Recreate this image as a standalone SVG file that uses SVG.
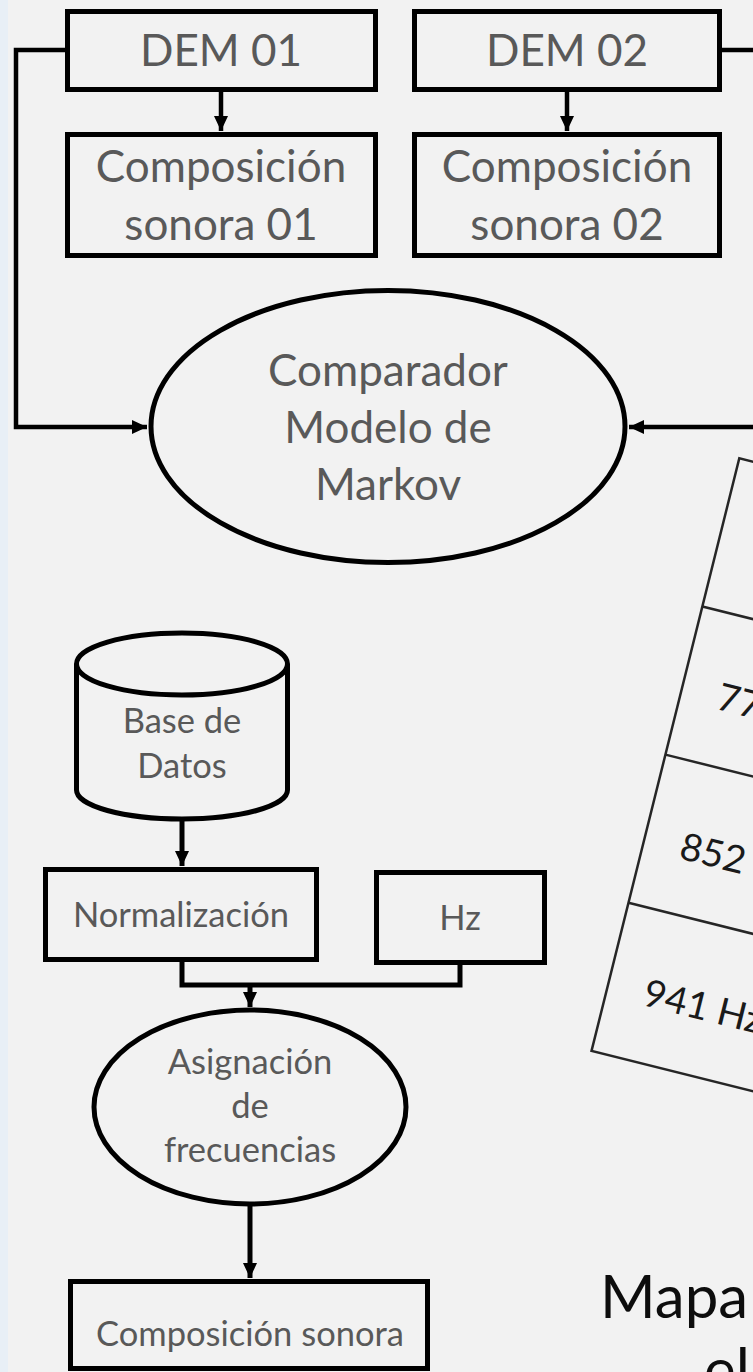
<svg xmlns="http://www.w3.org/2000/svg" width="753" height="1372" viewBox="0 0 753 1372">
<style>
.box{fill:none;stroke:#000;stroke-width:5}
.con{fill:none;stroke:#000;stroke-width:4.5}
.con2{fill:none;stroke:#000;stroke-width:5}
.t{font-family:Lato,"Liberation Sans",sans-serif;fill:#595959;text-anchor:middle}
.big{font-size:44px}
.sm{font-size:34.5px}
.tab{fill:none;stroke:#262626;stroke-width:2.5}
.tt{font-family:Lato,"Liberation Sans",sans-serif;fill:#1a1a1a;font-size:38px}
</style>
<defs>
<marker id="ah" markerUnits="userSpaceOnUse" markerWidth="16" markerHeight="14" refX="15" refY="7" orient="auto">
<path d="M0,0 L15,7 L0,14 z" fill="#000"/>
</marker>
</defs>
<rect x="0" y="0" width="753" height="1372" fill="#f2f2f2"/>
<rect x="0" y="0" width="8" height="1372" fill="#e8eff6"/>

<g id="connectors">
<path class="con" d="M65,50 H16 V427 H147" marker-end="url(#ah)"/>
<path class="con" d="M722,50 H753"/>
<path class="con" d="M753,427 H629" marker-end="url(#ah)"/>
<path class="con" d="M221,92 V131" marker-end="url(#ah)"/>
<path class="con" d="M567,92 V131" marker-end="url(#ah)"/>
<path class="con2" d="M182,820 V866" marker-end="url(#ah)"/>
<path class="con2" d="M182,962 V985 H460 V965"/>
<path class="con2" d="M250,985 V1007" marker-end="url(#ah)"/>
<path class="con2" d="M250,1205 V1278" marker-end="url(#ah)"/>
</g>

<g id="dem01">
<rect class="box" x="67.5" y="11.5" width="308" height="78"/>
<text class="t big" x="221" y="66">DEM 01</text>
</g>
<g id="dem02">
<rect class="box" x="414.5" y="11.5" width="305" height="78"/>
<text class="t big" x="567" y="66">DEM 02</text>
</g>
<g id="comp01">
<rect class="box" x="67.5" y="134.5" width="308" height="121"/>
<text class="t big" x="221" y="182">Composición</text>
<text class="t big" x="221" y="240">sonora 01</text>
</g>
<g id="comp02">
<rect class="box" x="414.5" y="134.5" width="305" height="121"/>
<text class="t big" x="567" y="182">Composición</text>
<text class="t big" x="567" y="240">sonora 02</text>
</g>
<g id="comparador">
<ellipse class="box" cx="388" cy="426.5" rx="237" ry="136"/>
<text class="t big" x="388" y="386">Comparador</text>
<text class="t big" x="388" y="443">Modelo de</text>
<text class="t big" x="388" y="500">Markov</text>
</g>

<g id="tabla" transform="translate(739.3,458.3) rotate(14)">
<rect class="tab" x="0" y="0" width="400" height="610.8"/>
<line class="tab" x1="0" y1="152.7" x2="400" y2="152.7"/>
<line class="tab" x1="0" y1="305.4" x2="400" y2="305.4"/>
<line class="tab" x1="0" y1="458.1" x2="400" y2="458.1"/>
<text class="tt" x="37" y="249">77</text>
<text class="tt" x="37" y="403">852</text>
<text class="tt" x="37" y="554">941 Hz</text>
</g>

<g id="basedatos">
<path class="box" d="M76.5,664 V790 A105.5,29 0 0 0 287.5,790 V664"/>
<ellipse class="box" cx="182" cy="664" rx="105.5" ry="31"/>
<text class="t sm" x="182" y="733">Base de</text>
<text class="t sm" x="182" y="778">Datos</text>
</g>
<g id="normalizacion">
<rect class="box" x="45.5" y="869.5" width="271" height="90"/>
<text class="t sm" x="181" y="927">Normalización</text>
</g>
<g id="hz">
<rect class="box" x="376.5" y="872.5" width="168" height="90"/>
<text class="t sm" x="460" y="930">Hz</text>
</g>
<g id="asignacion">
<ellipse class="box" cx="250" cy="1107" rx="156" ry="97"/>
<text class="t sm" x="250" y="1074">Asignación</text>
<text class="t sm" x="250" y="1118">de</text>
<text class="t sm" x="250" y="1162">frecuencias</text>
</g>
<g id="composicion">
<rect class="box" x="70.5" y="1281.5" width="357" height="87"/>
<text class="t sm" x="250" y="1346">Composición sonora</text>
</g>

<g id="mapa">
<text x="600" y="1318" style="font-family:Lato,'Liberation Sans',sans-serif;font-size:60px;fill:#0d0d0d">Mapa</text>
<text x="704" y="1391" style="font-family:Lato,'Liberation Sans',sans-serif;font-size:60px;fill:#0d0d0d">el</text>
</g>
</svg>
